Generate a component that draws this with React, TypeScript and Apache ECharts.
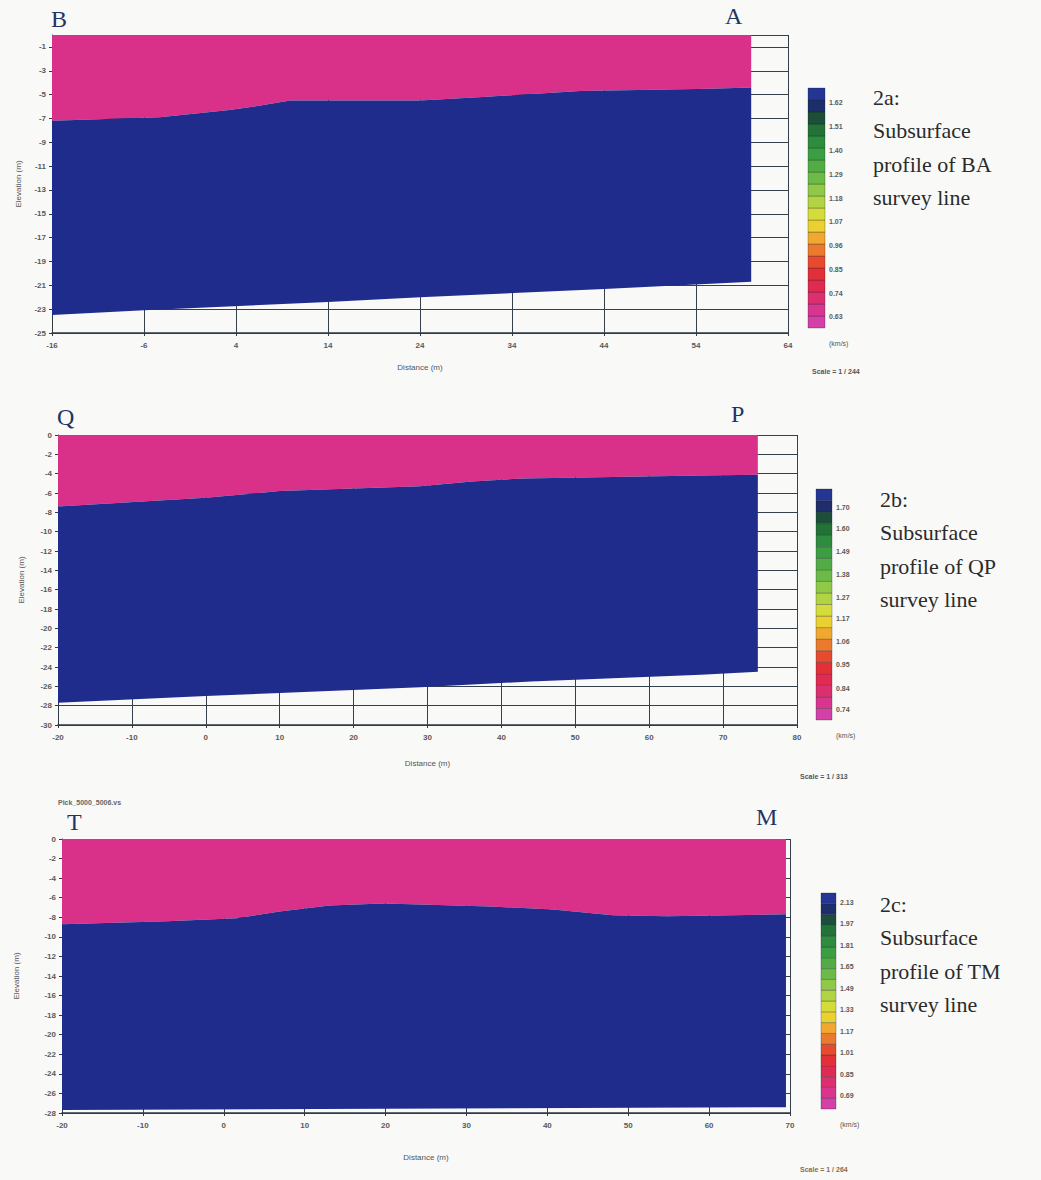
import React, { useEffect, useRef } from "react";
import * as echarts from "echarts";

// ---------- data ----------
// Panel 2a (B–A)
const interfaceX_BA = [-16, -4.3, 3.3, 6, 9.9, 24, 30.8, 41.4, 55.5, 60];
const interfaceY_BA = [-7.2, -6.9, -6.3, -6.0, -5.5, -5.5, -5.2, -4.7, -4.5, -4.4];
const bottomX_BA = [-16, -6, 14, 24, 44, 60];
const bottomY_BA = [-23.5, -23.1, -22.4, -22.0, -21.3, -20.7];
const velLabels_BA = [0.63, 0.74, 0.85, 0.96, 1.07, 1.18, 1.29, 1.4, 1.51, 1.62];

// Panel 2b (Q–P)
const interfaceX_QP = [-20, 0, 10, 17, 29, 36, 43, 67, 74.7];
const interfaceY_QP = [-7.4, -6.5, -5.8, -5.6, -5.3, -4.8, -4.5, -4.2, -4.1];
const bottomX_QP = [-20, 0, 10, 29, 44, 67, 74.7];
const bottomY_QP = [-27.7, -27.0, -26.7, -26.1, -25.5, -24.8, -24.5];
const velLabels_QP = [0.74, 0.84, 0.95, 1.06, 1.17, 1.27, 1.38, 1.49, 1.6, 1.7];

// Panel 2c (T–M)
const interfaceX_TM = [-20, -7, 1.6, 6.9, 13.1, 19.7, 24.3, 32.9, 40.7, 48.1, 54.8, 69.5];
const interfaceY_TM = [-8.7, -8.4, -8.1, -7.4, -6.8, -6.6, -6.7, -6.9, -7.2, -7.8, -7.9, -7.7];
const bottomX_TM = [-20, 69.5];
const bottomY_TM = [-27.7, -27.4];
const velLabels_TM = [0.69, 0.85, 1.01, 1.17, 1.33, 1.49, 1.65, 1.81, 1.97, 2.13];

// colour-bar bands, bottom to top
const bandColors = [
  "#d43fa8", "#d9358f", "#dc2f70", "#e02a50", "#e33038", "#e84a30", "#ec7a2e",
  "#f0a830", "#ead030", "#d4dc3c", "#b2d444", "#90c848", "#6cba48", "#52ac46",
  "#3c9e42", "#2e8c3e", "#237238", "#1c4e3a", "#1e2e6a", "#243596",
];

const PINK = "#d9318a";
const BLUE = "#1f2c8c";

type Panel = {
  ix: number[]; iy: number[]; bx: number[]; by: number[];
  xMin: number; xMax: number; yMin: number; yMax: number;
  grid: any; xGap: number; yGap: number; hideTopY: boolean;
};

const panels: Panel[] = [
  { ix: interfaceX_BA, iy: interfaceY_BA, bx: bottomX_BA, by: bottomY_BA, xMin: -16, xMax: 64, yMin: -25, yMax: 0,
    grid: { left: 52, top: 35, width: 736, height: 298 }, xGap: 30, yGap: 30, hideTopY: true },
  { ix: interfaceX_QP, iy: interfaceY_QP, bx: bottomX_QP, by: bottomY_QP, xMin: -20, xMax: 80, yMin: -30, yMax: 0,
    grid: { left: 58, top: 435, width: 739, height: 290 }, xGap: 34, yGap: 33, hideTopY: false },
  { ix: interfaceX_TM, iy: interfaceY_TM, bx: bottomX_TM, by: bottomY_TM, xMin: -20, xMax: 70, yMin: -28, yMax: 0,
    grid: { left: 62, top: 839, width: 728, height: 274 }, xGap: 40, yGap: 42, hideTopY: false },
];

const bars = [
  { labels: velLabels_BA, min: 0.579, max: 1.689, grid: { left: 808, top: 88, width: 17, height: 240 } },
  { labels: velLabels_QP, min: 0.688, max: 1.786, grid: { left: 816, top: 489, width: 16, height: 231 } },
  { labels: velLabels_TM, min: 0.593, max: 2.197, grid: { left: 821, top: 893, width: 15, height: 216 } },
];

const TICK_FONT = { fontSize: 8, color: "#5a5a5a", fontWeight: "bold" as const, fontFamily: "Liberation Sans" };

function polySeries(pts: number[][], color: string, xi: number) {
  return {
    type: "custom",
    xAxisIndex: xi,
    yAxisIndex: xi,
    clip: true,
    silent: true,
    data: [pts[0]],
    renderItem: (_p: any, api: any) => ({
      type: "polygon",
      shape: { points: pts.map((p) => api.coord(p)) },
      style: { fill: color },
    }),
  };
}

function buildOption() {
  const grids: any[] = [];
  const xAxes: any[] = [];
  const yAxes: any[] = [];
  const series: any[] = [];

  panels.forEach((p, i) => {
    grids.push(p.grid);
    xAxes.push({
      gridIndex: i, type: "value", min: p.xMin, max: p.xMax, interval: 10,
      name: "Distance (m)", nameLocation: "middle", nameGap: p.xGap,
      nameTextStyle: { fontSize: 8, color: "#555", fontFamily: "Liberation Sans" },
      axisLine: { show: true, onZero: false, lineStyle: { color: "#2f3a44", width: 1.5 } },
      axisTick: { show: true, length: 3, lineStyle: { color: "#2f3a44" } },
      axisLabel: { ...TICK_FONT, margin: 8 },
      splitLine: { show: true, lineStyle: { color: "#34404c", width: 1 } },
    });
    yAxes.push({
      gridIndex: i, type: "value", min: p.yMin, max: p.yMax, interval: 2,
      name: "Elevation (m)", nameLocation: "middle", nameGap: p.yGap,
      nameTextStyle: { fontSize: 8, color: "#555", fontFamily: "Liberation Sans" },
      axisLine: { show: true, onZero: false, lineStyle: { color: "#2f3a44" } },
      axisTick: { show: true, length: 3, lineStyle: { color: "#2f3a44" } },
      axisLabel: { ...TICK_FONT, margin: 6, showMaxLabel: !p.hideTopY },
      splitLine: { show: true, lineStyle: { color: "#34404c", width: 1 } },
    });
    const n = p.ix.length;
    const pinkPts = [[p.ix[0], p.yMax], [p.ix[n - 1], p.yMax]];
    for (let k = n - 1; k >= 0; k--) pinkPts.push([p.ix[k], p.iy[k]]);
    const bluePts: number[][] = [];
    for (let k = 0; k < n; k++) bluePts.push([p.ix[k], p.iy[k]]);
    for (let k = p.bx.length - 1; k >= 0; k--) bluePts.push([p.bx[k], p.by[k]]);
    series.push(polySeries(pinkPts, PINK, i));
    series.push(polySeries(bluePts, BLUE, i));
  });

  bars.forEach((b, j) => {
    const gi = panels.length + j;
    grids.push(b.grid);
    xAxes.push({ gridIndex: gi, type: "value", min: 0, max: 1, show: false });
    yAxes.push({
      gridIndex: gi, type: "value", min: b.min, max: b.max, position: "right",
      name: "(km/s)", nameLocation: "start", nameGap: 12,
      nameTextStyle: { fontSize: 7, color: "#555", fontFamily: "Liberation Sans", align: "left", padding: [0, 0, 0, 4] },
      axisLine: { show: false, onZero: false },
      axisTick: { show: false },
      splitLine: { show: false },
      axisLabel: {
        ...TICK_FONT, fontSize: 7, margin: 4,
        customValues: b.labels,
        formatter: (v: number) => v.toFixed(2),
      },
    });
    const nb = bandColors.length;
    const step = (b.max - b.min) / nb;
    const bandData = bandColors.map((_, k) => [b.min + k * step, b.min + (k + 1) * step, k]);
    series.push({
      type: "custom",
      xAxisIndex: gi,
      yAxisIndex: gi,
      silent: true,
      data: bandData,
      renderItem: (_p: any, api: any) => {
        const lo = api.value(0);
        const hi = api.value(1);
        const k = api.value(2);
        const a = api.coord([0, hi]);
        const c = api.coord([1, lo]);
        return {
          type: "rect",
          shape: { x: a[0], y: a[1], width: c[0] - a[0], height: c[1] - a[1] },
          style: { fill: bandColors[k], stroke: "rgba(20,30,30,0.45)", lineWidth: 0.6 },
        };
      },
    });
  });

  const serif = "Liberation Serif";
  const letter = (t: string, x: number, y: number) => ({
    type: "text", left: x, top: y,
    style: { text: t, fontSize: 24, fontFamily: serif, fill: "#1f3566" },
  });
  const caption = (lines: string[], x: number, y: number) =>
    lines.map((t, k) => ({
      type: "text", left: x, top: y + k * 33.5,
      style: { text: t, fontSize: 22, fontFamily: serif, fill: "#2b2b2b" },
    }));
  const small = (t: string, x: number, y: number, color = "#555") => ({
    type: "text", left: x, top: y,
    style: { text: t, fontSize: 7, fontFamily: "Liberation Sans", fill: color, fontWeight: "bold" },
  });

  return {
    animation: false,
    backgroundColor: "#f9f9f8",
    grid: grids,
    xAxis: xAxes,
    yAxis: yAxes,
    series,
    graphic: [
      letter("B", 51, 7),
      letter("A", 725, 4),
      letter("Q", 57, 405),
      letter("P", 731, 402),
      letter("T", 67, 810),
      letter("M", 756, 805),
      ...caption(["2a:", "Subsurface", "profile of BA", "survey line"], 873, 86),
      ...caption(["2b:", "Subsurface", "profile of QP", "survey line"], 880, 488),
      ...caption(["2c:", "Subsurface", "profile of TM", "survey line"], 880, 893),
      small("Scale = 1 / 244", 812, 368),
      small("Scale = 1 / 313", 800, 773),
      small("Scale = 1 / 264", 800, 1166, "#8a6a50"),
      small("Pick_5000_5006.vs", 58, 799, "#666"),
    ],
  };
}

export default function App() {
  const ref = useRef<HTMLDivElement>(null);
  useEffect(() => {
    if (!ref.current) return;
    const chart = echarts.init(ref.current, undefined, { renderer: "svg" });
    chart.setOption(buildOption() as any);
    return () => chart.dispose();
  }, []);
  return (
    <div
      ref={ref}
      style={{ position: "fixed", left: 0, top: 0, width: 1041, height: 1180 }}
    />
  );
}
